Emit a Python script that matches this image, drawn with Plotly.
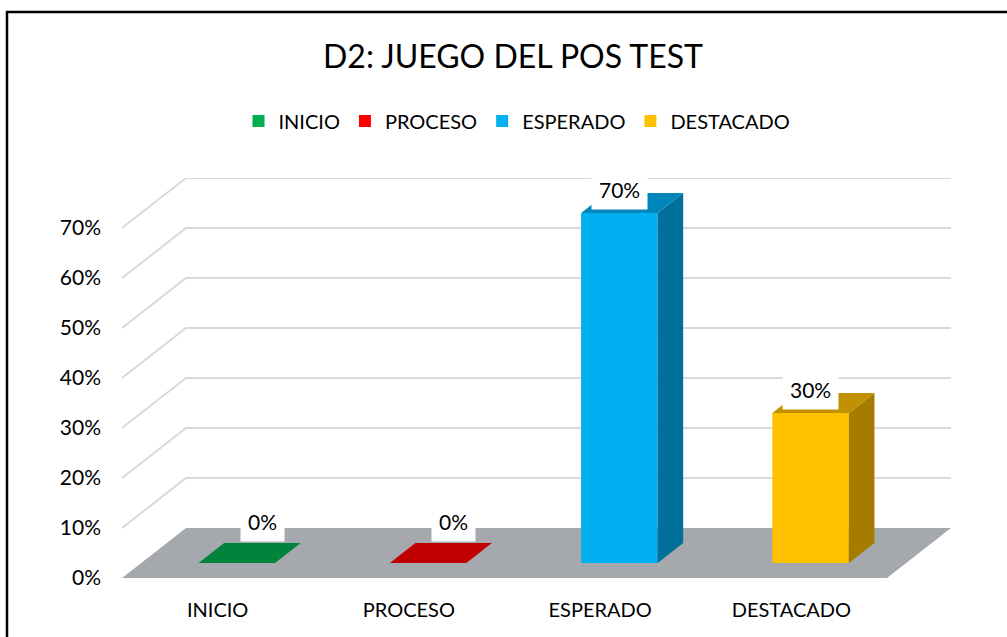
import plotly.graph_objects as go

# ---- data ----
categories = ["INICIO", "PROCESO", "ESPERADO", "DESTACADO"]
values = [0, 0, 70, 30]  # percent
front_colors = ["#00B050", "#FF0000", "#00B0F0", "#FFC000"]
side_colors = ["#006B33", "#A00000", "#006F9A", "#A67C00"]
top_colors = ["#00843C", "#C00000", "#0087BA", "#C29000"]
y_ticks = [0, 10, 20, 30, 40, 50, 60, 70]
y_ticktext = [f"{t}%" for t in y_ticks]

# ---- pseudo-3D geometry (in data units) ----
K = 0.3346       # x shift for full depth
DY = 10.0        # y shift for full depth
D_FRONT, D_BACK = 0.3, 0.7
BW = 0.4
XMIN, XMAX = -0.5, len(categories) - 0.5
YMAX = 80

FONT = "Lato"
fig = go.Figure()

shapes = []
# floor
shapes.append(dict(type="path", xref="x", yref="y", layer="below",
                   path=f"M {XMIN},0 L {XMAX},0 L {XMAX+K},{DY} L {XMIN+K},{DY} Z",
                   fillcolor="#A5A8AD", line=dict(width=0)))
# gridlines (back wall + left wall)
for t in y_ticks[1:]:
    shapes.append(dict(type="path", xref="x", yref="y", layer="below",
                       path=f"M {XMIN},{t} L {XMIN+K},{t+DY} L {XMAX+K},{t+DY}",
                       line=dict(color="#D9D9D9", width=2)))

# frame around chart
PL, PR, PT, PB = 122, 951, 178, 578
def px_to_paper_x(px):
    return (px - PL) / (PR - PL)
def py_to_paper_y(py):
    return (PB - py) / (PB - PT)
shapes.append(dict(type="rect", xref="paper", yref="paper", layer="above",
                   x0=px_to_paper_x(7), x1=px_to_paper_x(1012),
                   y0=py_to_paper_y(642), y1=py_to_paper_y(12),
                   line=dict(color="black", width=2.5), fillcolor="rgba(0,0,0,0)"))

base = D_FRONT * DY
dd = (D_BACK - D_FRONT)
annotations = []
for i, (cat, v) in enumerate(zip(categories, values)):
    xc = i + D_FRONT * K
    xl, xr = xc - BW / 2, xc + BW / 2
    # front face via bar
    fig.add_trace(go.Bar(x=[xc], y=[v], base=[base], width=BW, name=cat,
                         marker=dict(color=front_colors[i], line=dict(width=0)),
                         hoverinfo="skip"))
    # side face
    if v > 0:
        fig.add_trace(go.Scatter(
            x=[xr, xr + dd * K, xr + dd * K, xr, xr],
            y=[base, base + dd * DY, base + v + dd * DY, base + v, base],
            fill="toself", fillcolor=side_colors[i], mode="lines",
            line=dict(width=0, color=side_colors[i]), showlegend=False, hoverinfo="skip"))
    # top face
    fig.add_trace(go.Scatter(
        x=[xl, xr, xr + dd * K, xl + dd * K, xl],
        y=[base + v, base + v, base + v + dd * DY, base + v + dd * DY, base + v],
        fill="toself", fillcolor=top_colors[i], mode="lines",
        line=dict(width=0, color=top_colors[i]), showlegend=False, hoverinfo="skip"))
    # data label
    lx = xc if v > 0 else xc + dd * K
    ly = max(v + 7.8, 11.4)
    annotations.append(dict(x=lx, y=ly, xref="x", yref="y", text=f"{v}%",
                            showarrow=False, bgcolor="white", borderpad=7,
                            font=dict(family=FONT, size=21, color="#000000"),
                            xanchor="center", yanchor="middle"))

fig.update_layout(
    width=1007, height=637,
    margin=dict(l=PL, r=1007 - PR, t=PT, b=637 - PB),
    paper_bgcolor="white", plot_bgcolor="white",
    barmode="overlay",
    title=dict(text="D2: JUEGO DEL POS TEST", x=513 / 1007, y=1 - 57 / 637,
               xanchor="center", yanchor="middle",
               font=dict(family=FONT, size=32, color="#000000")),
    legend=dict(orientation="h", x=px_to_paper_x(517), y=py_to_paper_y(121),
                xanchor="center", yanchor="middle",
                font=dict(family=FONT, size=20, color="#000000"),
                itemwidth=30, bgcolor="rgba(0,0,0,0)"),
    shapes=shapes,
    annotations=annotations,
    xaxis=dict(range=[XMIN, XMAX + K], showgrid=False, zeroline=False, showline=False,
               tickmode="array", tickvals=list(range(len(categories))), ticktext=categories,
               ticklabelstandoff=18, tickfont=dict(family=FONT, size=20, color="#000000"),
               fixedrange=True),
    yaxis=dict(range=[0, YMAX], showgrid=False, zeroline=False, showline=False,
               tickmode="array", tickvals=y_ticks, ticktext=y_ticktext,
               ticklabelstandoff=20, tickfont=dict(family=FONT, size=21, color="#000000"),
               fixedrange=True),
)

fig.write_html("out.html", config={"displayModeBar": False},
               post_script="document.body.style.margin='0';document.body.style.overflow='hidden';")
